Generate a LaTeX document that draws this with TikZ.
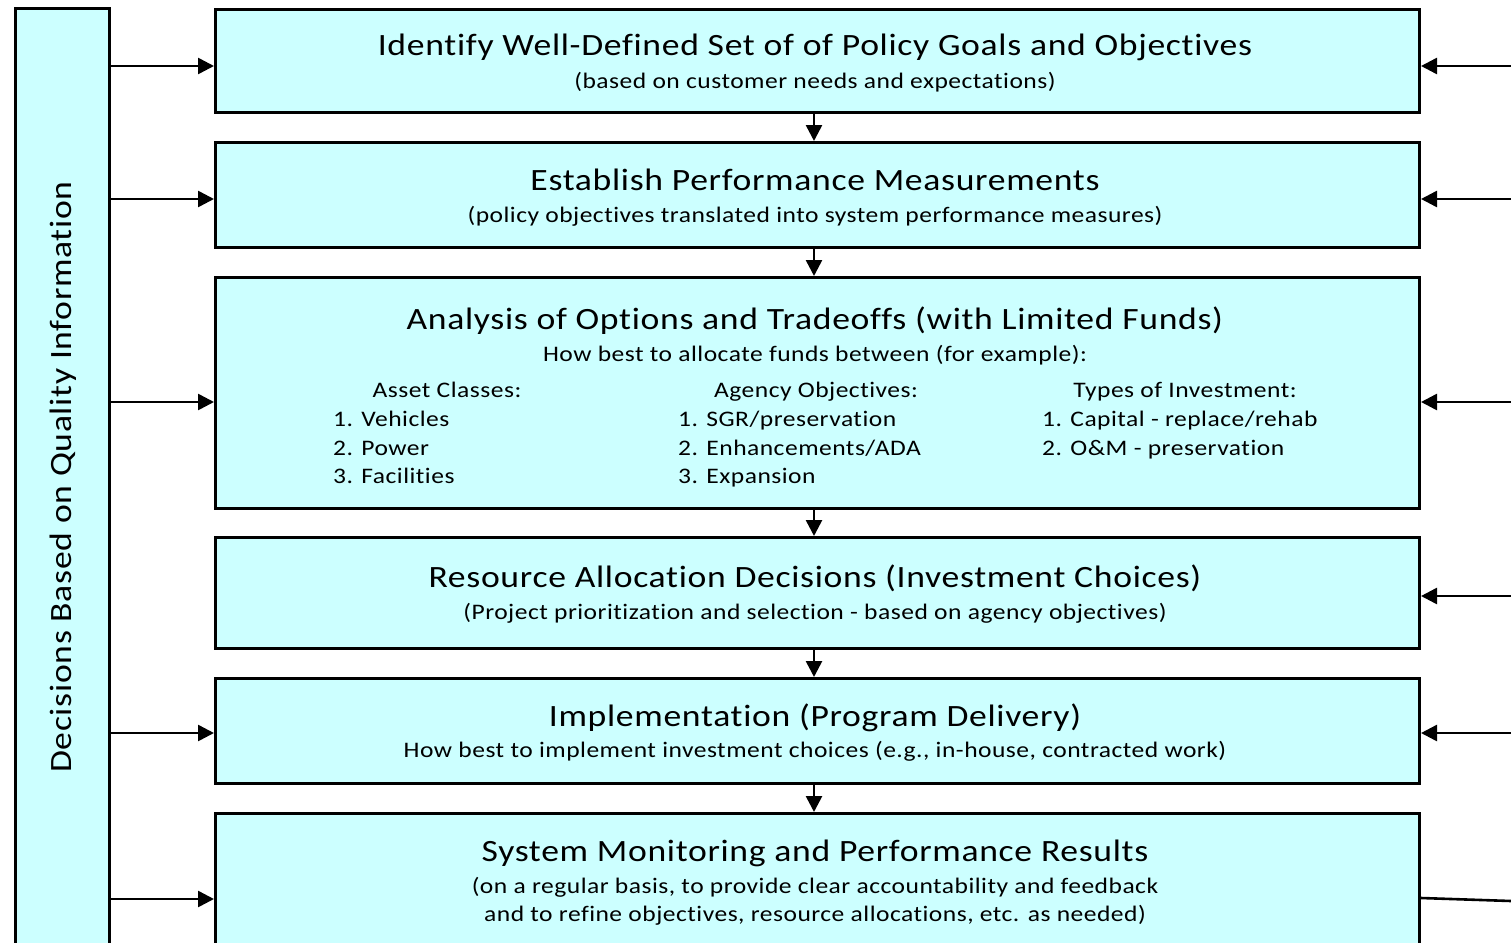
\documentclass[tikz,border=0pt]{standalone}
\usepackage{fontspec}
\setmainfont{Carlito}[FakeStretch=1.15,LetterSpace=2.2,Ligatures=NoCommon]
\usetikzlibrary{arrows.meta,calc}
\definecolor{boxfill}{RGB}{204,255,255}
\tikzset{
  box/.style={draw=black, line width=3pt, fill=boxfill, rectangle, inner sep=0pt, anchor=north west},
  arr/.style={line width=2.6pt, -{Triangle[length=16pt,width=16pt]}},
  plain/.style={line width=2.6pt},
  ttl/.style={anchor=base, inner sep=0pt, font=\fontsize{31}{36}\selectfont},
  sub/.style={anchor=base, inner sep=0pt, font=\fontsize{22.2}{26}\selectfont},
  itm/.style={anchor=base west, inner sep=0pt, font=\fontsize{22.2}{26}\selectfont},
}
\begin{document}
\begin{tikzpicture}[x=1pt,y=-1pt]
\useasboundingbox (0,0) rectangle (1511,942);
\clip (0,0) rectangle (1511,942);
% left bar
\node[box, minimum width=94pt, minimum height=960pt] (bar) at (14,7) {};
\node[rotate=90, inner sep=0pt, font=\fontsize{31}{36}\selectfont] (barlbl) at (63,477) {Decisions Based on Quality Information};
% boxes
\node[box, minimum width=1204pt, minimum height=103pt] (b1) at (214,8) {};
\node[box, minimum width=1204pt, minimum height=105pt] (b2) at (214,141) {};
\node[box, minimum width=1204pt, minimum height=231pt] (b3) at (214,276) {};
\node[box, minimum width=1204pt, minimum height=111pt] (b4) at (214,536) {};
\node[box, minimum width=1204pt, minimum height=105pt] (b5) at (214,677) {};
\node[box, minimum width=1204pt, minimum height=160pt] (b6) at (214,812) {};
% texts
\node[ttl] (t1) at (815,56) {Identify Well-Defined Set of of Policy Goals and Objectives};
\node[sub] (s1) at (815,88) {(based on customer needs and expectations)};
\node[ttl] (t2) at (815,190) {Establish Performance Measurements};
\node[sub] (s2) at (815,222) {(policy objectives translated into system performance measures)};
\node[ttl] (t3) at (815,329) {Analysis of Options and Tradeoffs (with Limited Funds)};
\node[sub] (s3) at (815,361) {How best to allocate funds between (for example):};
\node[sub] (h1) at (447,397) {Asset Classes:};
\node[itm] (a1) at (333,426) {1. Vehicles};
\node[itm] (a2) at (333,455) {2. Power};
\node[itm] (a3) at (333,483) {3. Facilities};
\node[sub] (h2) at (816,397) {Agency Objectives:};
\node[itm] (o1) at (678,426) {1. SGR/preservation};
\node[itm] (o2) at (678,455) {2. Enhancements/ADA};
\node[itm] (o3) at (678,483) {3. Expansion};
\node[sub] (h3) at (1185,397) {Types of Investment:};
\node[itm] (i1) at (1042,426) {1. Capital - replace/rehab};
\node[itm] (i2) at (1042,455) {2. O\&M - preservation};
\node[ttl] (t4) at (815,587) {Resource Allocation Decisions (Investment Choices)};
\node[sub] (s4) at (815,619) {(Project prioritization and selection - based on agency objectives)};
\node[ttl] (t5) at (815,726) {Implementation (Program Delivery)};
\node[sub] (s5) at (815,757) {How best to implement investment choices (e.g., in-house, contracted work)};
\node[ttl] (t6) at (815,861) {System Monitoring and Performance Results};
\node[sub] (s6a) at (815,893) {(on a regular basis, to provide clear accountability and feedback};
\node[sub] (s6b) at (815,921) {and to refine objectives, resource allocations, etc. as needed)};
% down arrows
\draw[arr] (b1.south -| 814,0) -- (b2.north -| 814,0);
\draw[arr] (b2.south -| 814,0) -- (b3.north -| 814,0);
\draw[arr] (b3.south -| 814,0) -- (b4.north -| 814,0);
\draw[arr] (b4.south -| 814,0) -- (b5.north -| 814,0);
\draw[arr] (b5.south -| 814,0) -- (b6.north -| 814,0);
% left arrows
\draw[arr] (bar.east |- 0,66) -- (b1.west |- 0,66);
\draw[arr] (bar.east |- 0,199) -- (b2.west |- 0,199);
\draw[arr] (bar.east |- 0,402) -- (b3.west |- 0,402);
\draw[arr] (bar.east |- 0,733) -- (b5.west |- 0,733);
\draw[arr] (bar.east |- 0,899) -- (b6.west |- 0,899);
% right arrows
\coordinate (r1) at (1511,66);
\coordinate (r2) at (1511,199);
\coordinate (r3) at (1511,402);
\coordinate (r4) at (1511,596);
\coordinate (r5) at (1511,733);
\coordinate (r6) at (1511,901);
\draw[arr] (r1) -- (b1.east |- r1);
\draw[arr] (r2) -- (b2.east |- r2);
\draw[arr] (r3) -- (b3.east |- r3);
\draw[arr] (r4) -- (b4.east |- r4);
\draw[arr] (r5) -- (b5.east |- r5);
\draw[plain] (r6) -- (b6.east |- 0,898);
\end{tikzpicture}
\end{document}
